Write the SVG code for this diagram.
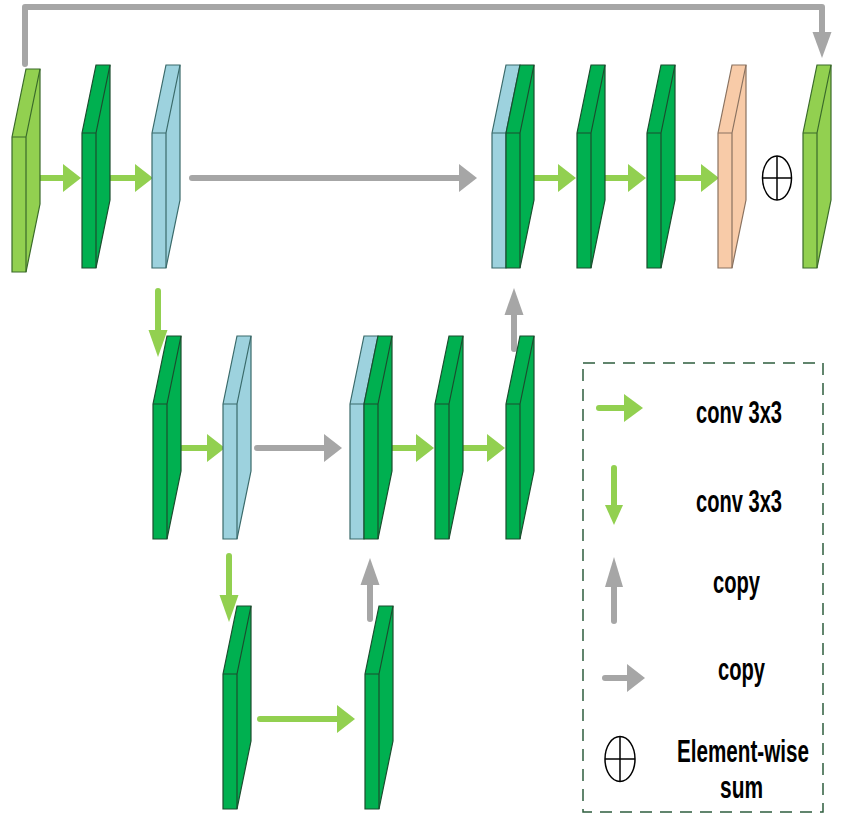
<svg xmlns="http://www.w3.org/2000/svg" xmlns:xlink="http://www.w3.org/1999/xlink" width="851" height="814" viewBox="0 0 851 814">
<style>
.lg{fill:#92D050;stroke:#3A6A2A;stroke-width:1.2}
.dg{fill:#00B050;stroke:#1B4D2E;stroke-width:1.2}
.bl{fill:#9DD2DE;stroke:#3A6A6A;stroke-width:1.2}
.pc{fill:#F8CBA8;stroke:#8A7260;stroke-width:1.2}
.gs{stroke:#92D050;stroke-width:6;stroke-linecap:round;fill:none}
.gh{fill:#92D050}
.ys{stroke:#A6A6A6;stroke-width:6;stroke-linecap:round;stroke-linejoin:round;fill:none}
.yh{fill:#A6A6A6}
.sum{fill:none;stroke:#000;stroke-width:1.5}
.t{font-family:"Liberation Sans",Arial,sans-serif;font-weight:bold;font-size:21px;fill:#000}
</style>
<defs>
<g id="slab">
<path d="M0,68 L14,0 L28,0 L28,135 L14,203 L0,203 Z"/>
<path fill="none" d="M0,68 L14,68 L28,0 M14,68 L14,203"/>
</g>
</defs>
<g id="connectors">
<path class="ys" d="M25,64 L25,7 L822,7 L822,34"/>
<polygon class="yh" points="812.5,32 822,58 831.5,32"/>
<line class="gs" x1="39" y1="178" x2="64" y2="178"/><polygon class="gh" points="63,164 81,178 63,192"/>
<line class="gs" x1="111" y1="178" x2="136" y2="178"/><polygon class="gh" points="135,164 153,178 135,192"/>
<line class="ys" x1="192" y1="178" x2="460" y2="178"/><polygon class="yh" points="459,164 477,178 459,192"/>
<line class="gs" x1="533" y1="178" x2="559" y2="178"/><polygon class="gh" points="558,164 576,178 558,192"/>
<line class="gs" x1="603" y1="178" x2="629" y2="178"/><polygon class="gh" points="628,164 646,178 628,192"/>
<line class="gs" x1="676" y1="178" x2="702" y2="178"/><polygon class="gh" points="701,164 719,178 701,192"/>
<line class="gs" x1="182" y1="448" x2="208" y2="448"/><polygon class="gh" points="207,434 225,448 207,462"/>
<line class="ys" x1="257" y1="448" x2="325" y2="448"/><polygon class="yh" points="324,434 342,448 324,462"/>
<line class="gs" x1="391" y1="448" x2="417" y2="448"/><polygon class="gh" points="416,434 434,448 416,462"/>
<line class="gs" x1="462" y1="448" x2="488" y2="448"/><polygon class="gh" points="487,434 505,448 487,462"/>
<line class="gs" x1="260" y1="719" x2="338" y2="719"/><polygon class="gh" points="337,705 355,719 337,733"/>
<line class="gs" x1="158" y1="291" x2="158" y2="331"/><polygon class="gh" points="148.5,330 158,357 167.5,330"/>
<line class="ys" x1="514" y1="349" x2="514" y2="314"/><polygon class="yh" points="504.5,315 514,288 523.5,315"/>
<line class="gs" x1="229" y1="556" x2="229" y2="596"/><polygon class="gh" points="219.5,595 229,622 238.5,595"/>
<line class="ys" x1="370" y1="619" x2="370" y2="584"/><polygon class="yh" points="360.5,585 370,558 379.5,585"/>
</g>
<g id="enc1"><use xlink:href="#slab" href="#slab" class="lg" transform="translate(12,69)"/></g>
<g id="enc2"><use xlink:href="#slab" href="#slab" class="dg" transform="translate(82,65)"/></g>
<g id="enc3"><use xlink:href="#slab" href="#slab" class="bl" transform="translate(152,65)"/></g>
<g id="dec1"><use xlink:href="#slab" href="#slab" class="bl" transform="translate(492,65)"/><use xlink:href="#slab" href="#slab" class="dg" transform="translate(506,65)"/></g>
<g id="dec2"><use xlink:href="#slab" href="#slab" class="dg" transform="translate(577,65)"/></g>
<g id="dec3"><use xlink:href="#slab" href="#slab" class="dg" transform="translate(647,65)"/></g>
<g id="dec4"><use xlink:href="#slab" href="#slab" class="pc" transform="translate(718,65)"/></g>
<g id="sum-top"><ellipse class="sum" cx="777" cy="178" rx="14.5" ry="22"/><line class="sum" x1="762.5" y1="178" x2="791.5" y2="178"/><line class="sum" x1="777" y1="156" x2="777" y2="200"/></g>
<g id="out"><use xlink:href="#slab" href="#slab" class="lg" transform="translate(803,65)"/></g>
<g id="mid1"><use xlink:href="#slab" href="#slab" class="dg" transform="translate(153,336)"/></g>
<g id="mid2"><use xlink:href="#slab" href="#slab" class="bl" transform="translate(223,336)"/></g>
<g id="mid3"><use xlink:href="#slab" href="#slab" class="bl" transform="translate(350,336)"/><use xlink:href="#slab" href="#slab" class="dg" transform="translate(364,336)"/></g>
<g id="mid4"><use xlink:href="#slab" href="#slab" class="dg" transform="translate(435,336)"/></g>
<g id="mid5"><use xlink:href="#slab" href="#slab" class="dg" transform="translate(506,336)"/></g>
<g id="bot1"><use xlink:href="#slab" href="#slab" class="dg" transform="translate(223,606)"/></g>
<g id="bot2"><use xlink:href="#slab" href="#slab" class="dg" transform="translate(365,606)"/></g>
<g id="legend">
<rect x="583" y="363" width="240" height="449" fill="none" stroke="#2E5E3E" stroke-width="1.5" stroke-dasharray="12 8"/>
<line class="gs" x1="599" y1="408" x2="625" y2="408"/><polygon class="gh" points="624,394 643,408 624,422"/>
<line class="gs" x1="614" y1="468" x2="614" y2="506"/><polygon class="gh" points="605,505 614,525 623,505"/>
<line class="ys" x1="614" y1="621" x2="614" y2="586"/><polygon class="yh" points="605,587 614,557 623,587"/>
<line class="ys" x1="605" y1="678" x2="628" y2="678"/><polygon class="yh" points="627,664 645,678 627,692"/>
<ellipse class="sum" cx="620" cy="759" rx="15" ry="22.5"/><line class="sum" x1="605" y1="759" x2="635" y2="759"/><line class="sum" x1="620" y1="736.5" x2="620" y2="781.5"/>
<text class="t" transform="translate(696,423) scale(1,1.5)" textLength="86" lengthAdjust="spacingAndGlyphs">conv 3x3</text>
<text class="t" transform="translate(696,512) scale(1,1.5)" textLength="86" lengthAdjust="spacingAndGlyphs">conv 3x3</text>
<text class="t" transform="translate(713,593) scale(1,1.5)" textLength="47" lengthAdjust="spacingAndGlyphs">copy</text>
<text class="t" transform="translate(718,680) scale(1,1.5)" textLength="47" lengthAdjust="spacingAndGlyphs">copy</text>
<text class="t" transform="translate(677,762) scale(1,1.5)" textLength="132" lengthAdjust="spacingAndGlyphs">Element-wise</text>
<text class="t" transform="translate(720,798) scale(1,1.5)" textLength="43" lengthAdjust="spacingAndGlyphs">sum</text>
</g>
</svg>
